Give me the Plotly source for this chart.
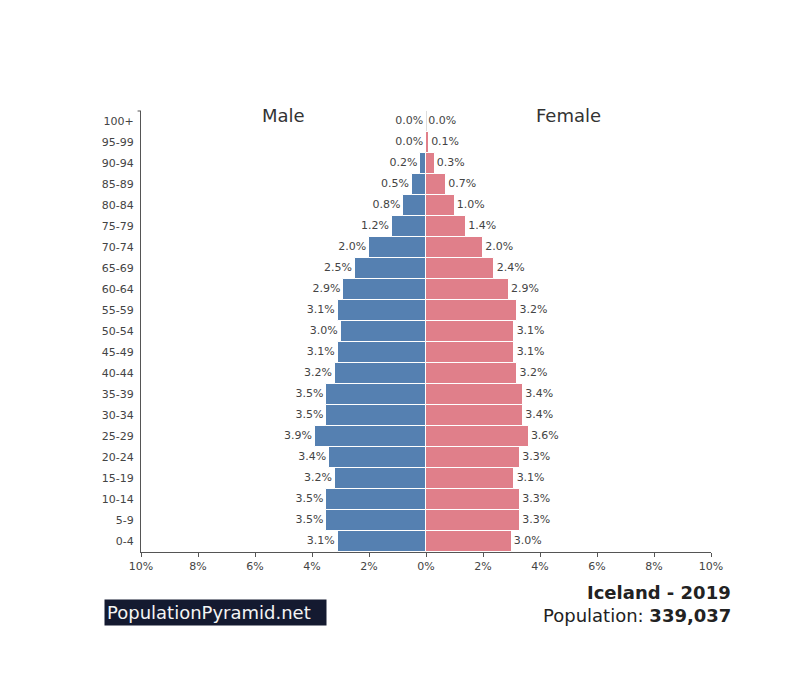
import plotly.graph_objects as go

# Population pyramid, Iceland 2019 (% of total population)
age_groups = ['0-4', '5-9', '10-14', '15-19', '20-24', '25-29', '30-34', '35-39',
              '40-44', '45-49', '50-54', '55-59', '60-64', '65-69', '70-74',
              '75-79', '80-84', '85-89', '90-94', '95-99', '100+']
male_pct = [3.1, 3.5, 3.5, 3.2, 3.4, 3.9, 3.5, 3.5, 3.2, 3.1, 3.0,
            3.1, 2.9, 2.5, 2.0, 1.2, 0.8, 0.5, 0.2, 0.0, 0.0]
female_pct = [3.0, 3.3, 3.3, 3.1, 3.3, 3.6, 3.4, 3.4, 3.2, 3.1, 3.1,
              3.2, 2.9, 2.4, 2.0, 1.4, 1.0, 0.7, 0.3, 0.1, 0.0]
tick_vals = [-10, -8, -6, -4, -2, 0, 2, 4, 6, 8, 10]
tick_text = ['10%', '8%', '6%', '4%', '2%', '0%', '2%', '4%', '6%', '8%', '10%']

MALE_COLOR = '#5580b1'
FEMALE_COLOR = '#e07f8a'
TEXT_COLOR = '#444444'
FONT = 'DejaVu Sans'

fig = go.Figure()

# Bars
fig.add_trace(go.Bar(
    y=age_groups, x=[-v for v in male_pct], orientation='h',
    marker=dict(color=MALE_COLOR, line=dict(color='white', width=1)),
    name='Male', hoverinfo='skip'
))
fig.add_trace(go.Bar(
    y=age_groups, x=female_pct, orientation='h',
    marker=dict(color=FEMALE_COLOR, line=dict(color='white', width=1)),
    name='Female', hoverinfo='skip'
))

# Value labels beside the bars
fig.add_trace(go.Scatter(
    y=age_groups, x=[-v - 0.1 for v in male_pct], mode='text',
    text=[f"{v:.1f}%" for v in male_pct], textposition='middle left',
    textfont=dict(family=FONT, size=11, color=TEXT_COLOR), hoverinfo='skip'
))
fig.add_trace(go.Scatter(
    y=age_groups, x=[v + 0.08 for v in female_pct], mode='text',
    text=[f"{v:.1f}%" for v in female_pct], textposition='middle right',
    textfont=dict(family=FONT, size=11, color=TEXT_COLOR), hoverinfo='skip'
))

# Headers and footer
annotations = [
    dict(x=-5, y=0.989, xref='x', yref='paper', text='Male', showarrow=False,
         font=dict(family=FONT, size=18, color='#333333'), yanchor='middle'),
    dict(x=5, y=0.989, xref='x', yref='paper', text='Female', showarrow=False,
         font=dict(family=FONT, size=18, color='#333333'), yanchor='middle'),
    dict(x=1.037, y=-0.092, xref='paper', yref='paper', text='<b>Iceland - 2019</b>',
         showarrow=False, xanchor='right', yanchor='middle', borderpad=0,
         font=dict(family=FONT, size=18, color='#222222')),
    dict(x=1.037, y=-0.143, xref='paper', yref='paper',
         text='Population: <b>339,037</b>', showarrow=False,
         xanchor='right', yanchor='middle', borderpad=0,
         font=dict(family=FONT, size=18, color='#222222')),
    dict(x=-0.065, y=-0.137, xref='paper', yref='paper', text='PopulationPyramid.net',
         showarrow=False, xanchor='left', yanchor='middle', align='left',
         bgcolor='#141a30', borderpad=2, width=217, height=21,
         font=dict(family=FONT, size=18, color='#f4f4f4')),
]

fig.update_layout(
    width=800, height=686,
    paper_bgcolor='white', plot_bgcolor='white',
    barmode='overlay', bargap=0.0,
    showlegend=False,
    margin=dict(l=133, r=97, t=103, b=142),
    font=dict(family=FONT, size=11, color=TEXT_COLOR),
    annotations=annotations,
    xaxis=dict(range=[-10, 10], tickvals=tick_vals, ticktext=tick_text,
               showgrid=False, zeroline=True, zerolinecolor='#dddddd', zerolinewidth=1,
               showline=True, linecolor='#555555', linewidth=1,
               ticks='outside', ticklen=4, tickcolor='#555555',
               tickfont=dict(family=FONT, size=11, color=TEXT_COLOR), fixedrange=True),
    yaxis=dict(categoryorder='array', categoryarray=age_groups,
               range=[-0.5, 20.5], showgrid=False, zeroline=False,
               showline=True, linecolor='#555555', linewidth=1, ticks='',
               ticklabelstandoff=4,
               tickfont=dict(family=FONT, size=11, color=TEXT_COLOR), fixedrange=True),
    shapes=[dict(type='line', xref='paper', yref='paper', x0=-0.006, x1=0,
                 y0=1, y1=1, line=dict(color='#555555', width=1))],
)

fig.write_html("out.html")
